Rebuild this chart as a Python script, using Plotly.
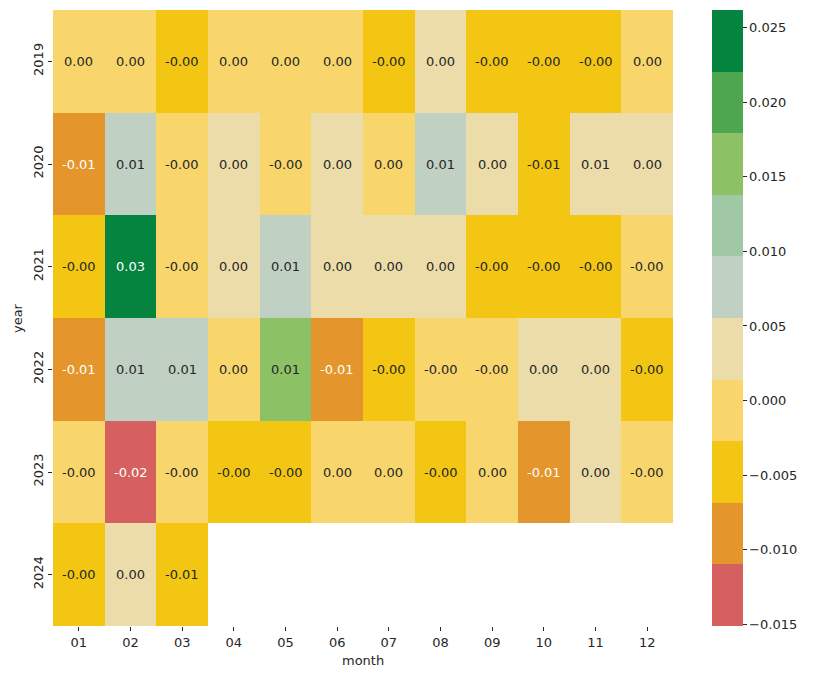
import math
import plotly.graph_objects as go

months = ["01", "02", "03", "04", "05", "06", "07", "08", "09", "10", "11", "12"]
years = ["2019", "2020", "2021", "2022", "2023", "2024"]

v2019 = [0.0005, 0.0008, -0.0040, 0.0010, 0.0004, 0.0012, -0.0035, 0.0030, -0.0032, -0.0045, -0.0038, 0.0007]
v2020 = [-0.0085, 0.0075, -0.0010, 0.0025, -0.0008, 0.0030, 0.0009, 0.0065, 0.0020, -0.0058, 0.0053, 0.0028]
v2021 = [-0.0040, 0.0262, -0.0015, 0.0030, 0.0070, 0.0022, 0.0035, 0.0018, -0.0042, -0.0036, -0.0048, -0.0012]
v2022 = [-0.0095, 0.0068, 0.0060, 0.0008, 0.0145, -0.0090, -0.0039, -0.0010, -0.0020, 0.0026, 0.0032, -0.0045]
v2023 = [-0.0018, -0.0151, -0.0006, -0.0035, -0.0041, 0.0004, 0.0011, -0.0030, 0.0007, -0.0080, 0.0023, -0.0009]
v2024 = [-0.0044, 0.0021, -0.0057, None, None, None, None, None, None, None, None, None]
z = [v2019, v2020, v2021, v2022, v2023, v2024]

zmin, zmax = -0.01513, 0.0262
colors = ["#D65F5F", "#E4962C", "#F3C613", "#F8D66C", "#ECDCAA",
          "#C0D0C2", "#A0C8A4", "#8CC265", "#4EA64E", "#05843F"]
n = len(colors)
colorscale = []
for i, c in enumerate(colors):
    colorscale.append([i / n, c])
    colorscale.append([(i + 1) / n, c])

def lum(hexc):
    r, g, b = [int(hexc[i:i + 2], 16) / 255 for i in (1, 3, 5)]
    def f(c):
        return c / 12.92 if c <= 0.03928 else ((c + 0.055) / 1.055) ** 2.4
    return 0.2126 * f(r) + 0.7152 * f(g) + 0.0722 * f(b)

annotations = []
for yi, row in enumerate(z):
    for xi, v in enumerate(row):
        if v is None:
            continue
        k = int(math.floor((v - zmin) / (zmax - zmin) * n))
        k = max(0, min(n - 1, k))
        tc = "#262626" if lum(colors[k]) > 0.408 else "#FFFFFF"
        annotations.append(dict(x=xi, y=yi, text=f"{v:.2f}", showarrow=False,
                                font=dict(color=tc, size=13, family="DejaVu Sans"),
                                xref="x", yref="y"))

# axis titles
annotations.append(dict(text="month", xref="paper", yref="paper", x=0.5, y=-0.0568,
                        xanchor="center", yanchor="middle", showarrow=False,
                        font=dict(size=13, color="#262626")))
annotations.append(dict(text="year", xref="paper", yref="paper", x=-0.058, y=0.5,
                        xanchor="center", yanchor="middle", textangle=-90, showarrow=False,
                        font=dict(size=13, color="#262626")))

tick_vals = [-0.015, -0.010, -0.005, 0.0, 0.005, 0.010, 0.015, 0.020, 0.025]
tick_text = [f"{t:.3f}".replace("-", "\u2212") for t in tick_vals]

L, R, T, B = 45, 148, 2, 61
fig = go.Figure(go.Heatmap(
    x=months, y=years, z=z, zmin=zmin, zmax=zmax, colorscale=colorscale,
    hoverongaps=False,
    colorbar=dict(x=(704 - L) / 620, xanchor="left", xref="paper", y=1, yanchor="top",
                  yref="paper", xpad=0, ypad=0,
                  len=1, lenmode="fraction", thickness=31, outlinewidth=0,
                  tickvals=tick_vals, ticktext=tick_text, ticks="outside", ticklen=4,
                  tickwidth=1, tickcolor="#262626",
                  tickfont=dict(size=13, family="DejaVu Sans", color="#262626")),
))

fig.update_layout(
    width=813, height=679,
    margin=dict(l=L, r=R, t=T, b=B),
    plot_bgcolor="white", paper_bgcolor="white",
    font=dict(family="DejaVu Sans", size=13, color="#262626"),
    annotations=annotations,
    xaxis=dict(type="category", ticks="outside", ticklen=4,
               automargin=False,
               tickcolor="#262626", showgrid=False, zeroline=False, showline=False,
               tickfont=dict(size=13)),
    yaxis=dict(type="category", ticks="outside", ticklen=4,
               automargin=False,
               tickcolor="#262626", autorange="reversed", tickangle=-90, showgrid=False,
               zeroline=False, showline=False, tickfont=dict(size=13)),
)

fig.write_html("out.html")
